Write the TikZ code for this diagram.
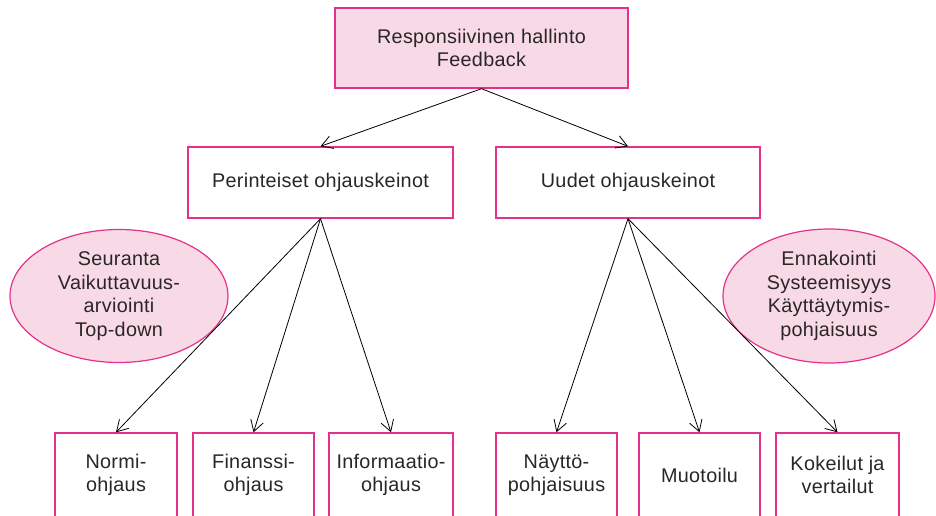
\documentclass[tikz,border=0pt]{standalone}
\usepackage{fontspec}
\setmainfont{Liberation Sans}[LetterSpace=1.5]
\usetikzlibrary{arrows.meta,shapes.geometric}
\definecolor{edgepink}{HTML}{E5308C}
\definecolor{fillpink}{HTML}{F8DAE6}
\definecolor{ink}{HTML}{2A2627}
\tikzset{
  lbl/.style={font=\fontsize{19.8}{23.5}\selectfont, text=ink, align=center, inner sep=0pt},
  box/.style={lbl, draw=edgepink, line width=1.4pt, fill=white},
  pinkbox/.style={box, fill=fillpink},
  bubble/.style={lbl, ellipse, draw=edgepink, line width=1.2pt, fill=fillpink},
  link/.style={draw=black, line width=0.8pt, -{Straight Barb[length=11pt,width=13pt,line width=0.8pt]}}
}
\begin{document}
\begin{tikzpicture}[x=1pt,y=-1pt]
\useasboundingbox (0,0) rectangle (936,515);
\clip (0,0) rectangle (936,515);

% root
\node[pinkbox, minimum width=293pt, minimum height=80pt] (root) at (481.5,48) {Responsiivinen hallinto\\Feedback};

% two families of steering instruments
\node[box, minimum width=265pt, minimum height=71pt] (trad) at (320.5,182.5) {Perinteiset ohjauskeinot};
\node[box, minimum width=264pt, minimum height=71pt] (new) at (628,182.5) {Uudet ohjauskeinot};

% characteristics
\node[bubble, minimum width=218pt, minimum height=133pt] (leftell) at (119,296) {Seuranta\\Vaikuttavuus-\\arviointi\\Top-down};
\node[bubble, minimum width=212pt, minimum height=134pt] (rightell) at (829,296) {Ennakointi\\Systeemisyys\\Käyttäytymis-\\pohjaisuus};

% individual instruments
\node[box, minimum width=122pt, minimum height=84pt] (normi) at (116,475) {Normi-\\ohjaus};
\node[box, minimum width=121pt, minimum height=84pt] (fin) at (253.5,475) {Finanssi-\\ohjaus};
\node[box, minimum width=124pt, minimum height=84pt] (info) at (391,475) {Informaatio-\\ohjaus};
\node[box, minimum width=121pt, minimum height=84pt] (nayt) at (556.5,475) {Näyttö-\\pohjaisuus};
\node[box, minimum width=121pt, minimum height=84pt] (muot) at (699.5,475) {Muotoilu};
\node[box, minimum width=123pt, minimum height=84pt] (koke) at (837.5,475) {Kokeilut ja\\vertailut};

% connectors
\draw[link] (root.south) -- (trad.north);
\draw[link] (root.south) -- (new.north);
\draw[link] (trad.south) -- (normi.north);
\draw[link] (trad.south) -- (fin.north);
\draw[link] (trad.south) -- (info.north);
\draw[link] (new.south) -- (nayt.north);
\draw[link] (new.south) -- (muot.north);
\draw[link] (new.south) -- (koke.north);
\end{tikzpicture}
\end{document}
